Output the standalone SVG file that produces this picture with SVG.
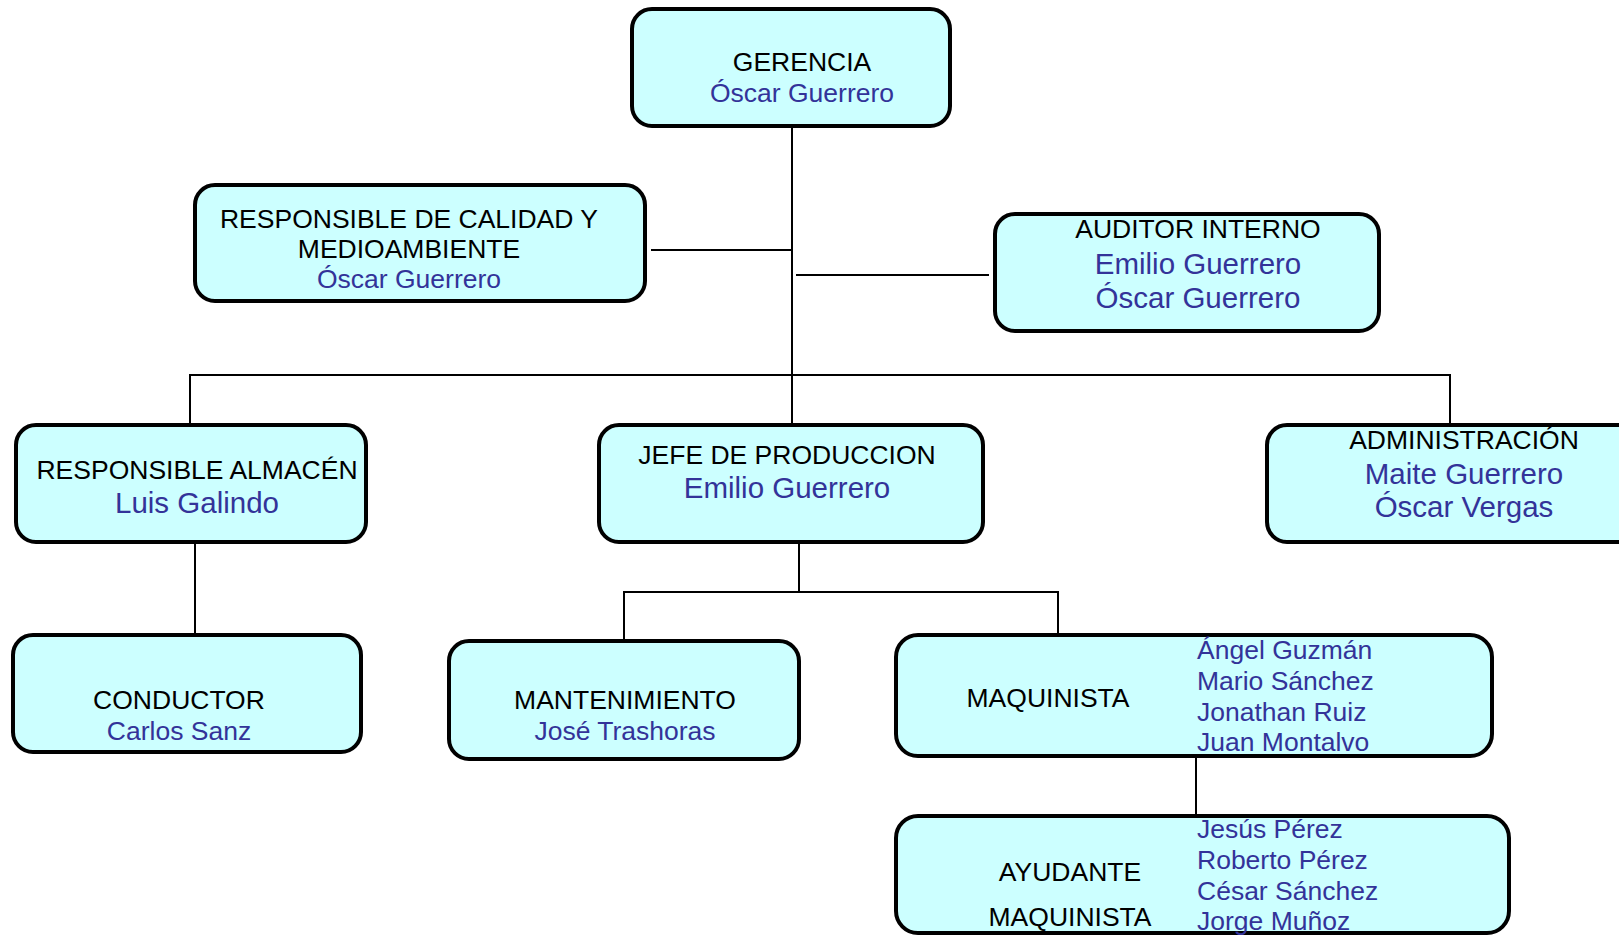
<svg xmlns="http://www.w3.org/2000/svg" width="1619" height="936" viewBox="0 0 1619 936">
<style>
.box{fill:#CCFFFF;stroke:#000;stroke-width:4}
.t{font-family:"Liberation Sans",Arial,sans-serif;font-size:26.5px;fill:#000;text-anchor:middle}
.n{font-family:"Liberation Sans",Arial,sans-serif;font-size:26.5px;fill:#333399;text-anchor:middle}
.nb{font-size:29.5px}
.l{text-anchor:start}
.c{stroke:#000;stroke-width:2;fill:none}
</style>
<rect width="1619" height="936" fill="#fff"/>
<g id="connectors">
<path class="c" d="M792,126V424"/>
<path class="c" d="M651,250H792"/>
<path class="c" d="M796,275H989"/>
<path class="c" d="M190,424V375H1450V424"/>
<path class="c" d="M195,542V635"/>
<path class="c" d="M799,542V592"/>
<path class="c" d="M624,641V592H1058V640"/>
<path class="c" d="M1196,756V816"/>
</g>
<g id="gerencia">
<rect class="box" x="632" y="9" width="318" height="117" rx="20"/>
<text class="t" x="802" y="71">GERENCIA</text>
<text class="n" x="802" y="102">Óscar Guerrero</text>
</g>
<g id="calidad">
<rect class="box" x="195" y="185" width="450" height="116" rx="20"/>
<text class="t" x="409" y="228">RESPONSIBLE DE CALIDAD Y</text>
<text class="t" x="409" y="258">MEDIOAMBIENTE</text>
<text class="n" x="409" y="288">Óscar Guerrero</text>
</g>
<g id="auditor">
<rect class="box" x="995" y="214" width="384" height="117" rx="20"/>
<text class="t" x="1198" y="238">AUDITOR INTERNO</text>
<text class="n nb" x="1198" y="274">Emilio Guerrero</text>
<text class="n nb" x="1198" y="308">Óscar Guerrero</text>
</g>
<g id="almacen">
<rect class="box" x="16" y="425" width="350" height="117" rx="20"/>
<text class="t" x="197" y="479">RESPONSIBLE ALMACÉN</text>
<text class="n nb" x="197" y="513">Luis Galindo</text>
</g>
<g id="jefe">
<rect class="box" x="599" y="425" width="384" height="117" rx="20"/>
<text class="t" x="787" y="464">JEFE DE PRODUCCION</text>
<text class="n nb" x="787" y="498">Emilio Guerrero</text>
</g>
<g id="administracion">
<rect class="box" x="1267" y="425" width="370" height="117" rx="20"/>
<text class="t" x="1464" y="449">ADMINISTRACIÓN</text>
<text class="n nb" x="1464" y="484">Maite Guerrero</text>
<text class="n nb" x="1464" y="517">Óscar Vergas</text>
</g>
<g id="conductor">
<rect class="box" x="13" y="635" width="348" height="117" rx="20"/>
<text class="t" x="179" y="709">CONDUCTOR</text>
<text class="n" x="179" y="740">Carlos Sanz</text>
</g>
<g id="mantenimiento">
<rect class="box" x="449" y="641" width="350" height="118" rx="20"/>
<text class="t" x="625" y="709">MANTENIMIENTO</text>
<text class="n" x="625" y="740">José Trashoras</text>
</g>
<g id="maquinista">
<rect class="box" x="896" y="635" width="596" height="121" rx="22"/>
<text class="t" x="1048" y="707">MAQUINISTA</text>
<text class="n l" x="1197" y="659">Ángel Guzmán</text>
<text class="n l" x="1197" y="690">Mario Sánchez</text>
<text class="n l" x="1197" y="721">Jonathan Ruiz</text>
<text class="n l" x="1197" y="751">Juan Montalvo</text>
</g>
<g id="ayudante">
<rect class="box" x="896" y="816" width="613" height="117" rx="22"/>
<text class="t" x="1070" y="881">AYUDANTE</text>
<text class="t" x="1070" y="926">MAQUINISTA</text>
<text class="n l" x="1197" y="838">Jesús Pérez</text>
<text class="n l" x="1197" y="869">Roberto Pérez</text>
<text class="n l" x="1197" y="900">César Sánchez</text>
<text class="n l" x="1197" y="930">Jorge Muñoz</text>
</g>
</svg>
